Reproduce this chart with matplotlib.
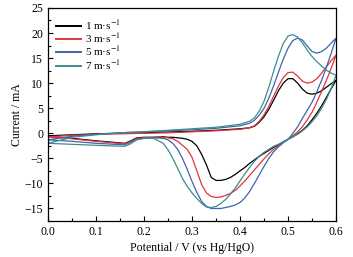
import numpy as np
import matplotlib
matplotlib.use('Agg')
import matplotlib.pyplot as plt
from matplotlib.ticker import MultipleLocator, FormatStrFormatter

plt.rcParams['font.family'] = ['Liberation Serif', 'DejaVu Serif']
plt.rcParams['mathtext.fontset'] = 'stix'

# forward scan (0 -> 0.6 V)
x_fwd = [0.0, 0.05, 0.1, 0.15, 0.2, 0.25, 0.3, 0.35, 0.4, 0.42, 0.43, 0.44, 0.45,
         0.46, 0.47, 0.48, 0.49, 0.50, 0.51, 0.52, 0.53, 0.54, 0.55, 0.56, 0.57,
         0.58, 0.59, 0.6]
i1_fwd = [-0.5, -0.3, -0.1, 0.0, 0.1, 0.25, 0.4, 0.6, 0.9, 1.1, 1.4, 2.2, 3.3,
          4.8, 6.6, 8.5, 10.0, 10.9, 10.9, 10.0, 8.8, 8.0, 7.8, 8.0, 8.5,
          9.2, 9.9, 10.6]
i3_fwd = [-0.7, -0.4, -0.2, -0.1, 0.0, 0.1, 0.3, 0.5, 0.8, 1.1, 1.5, 2.4, 3.7,
          5.4, 7.4, 9.4, 11.1, 12.1, 12.2, 11.4, 10.4, 10.0, 10.2, 10.9, 12.0,
          13.3, 14.5, 15.6]
i5_fwd = [-1.3, -0.6, -0.2, 0.1, 0.3, 0.5, 0.7, 1.0, 1.5, 2.0, 2.6, 3.6, 5.0,
          7.0, 9.5, 12.2, 14.8, 17.0, 18.5, 19.0, 18.6, 17.4, 16.3, 16.0, 16.3,
          17.0, 18.0, 19.0]
i7_fwd = [-2.0, -0.8, -0.3, 0.1, 0.3, 0.6, 0.9, 1.2, 1.8, 2.4, 3.1, 4.4, 6.4,
          9.2, 12.4, 15.4, 17.9, 19.4, 19.7, 19.2, 18.0, 16.6, 15.3, 14.3, 13.4,
          12.6, 12.0, 11.6]

# reverse scan (0.6 -> 0 V)
x_rev = [0.6, 0.59, 0.58, 0.57, 0.56, 0.55, 0.54, 0.53, 0.52, 0.51, 0.5,
         0.49, 0.48, 0.47, 0.46, 0.45, 0.44, 0.43, 0.42, 0.41, 0.40, 0.39,
         0.38, 0.37, 0.36, 0.35, 0.34, 0.33, 0.32, 0.31, 0.30, 0.29, 0.28,
         0.27, 0.26, 0.25, 0.24, 0.22, 0.2, 0.185, 0.17, 0.16, 0.1, 0.05, 0.0]
i1_rev = [10.6, 8.9, 7.2, 5.5, 4.0, 2.7, 1.5, 0.6, -0.1, -0.7, -1.2,
          -1.7, -2.3, -2.8, -3.4, -4.0, -4.6, -5.3, -6.0, -6.8, -7.5, -8.2,
          -8.8, -9.2, -9.4, -9.4, -8.8, -6.3, -4.2, -2.5, -1.6, -1.2, -1.0,
          -0.9, -0.8, -0.8, -0.7, -0.8, -0.8, -0.9, -1.6, -2.0, -1.5, -1.0, -0.6]
i3_rev = [15.6, 13.0, 10.6, 8.4, 6.2, 4.2, 2.7, 1.3, 0.3, -0.5, -1.2,
          -1.8, -2.5, -3.2, -4.1, -5.1, -6.2, -7.3, -8.4, -9.5, -10.5, -11.4,
          -12.0, -12.4, -12.7, -12.8, -12.6, -11.9, -10.2, -7.5, -4.8, -3.2, -2.4,
          -1.6, -1.1, -0.9, -0.8, -0.8, -0.9, -1.0, -1.7, -2.1, -1.6, -1.1, -0.7]
i5_rev = [19.0, 16.0, 13.2, 10.6, 8.3, 6.2, 4.6, 3.0, 1.3, 0.0, -1.2,
          -1.9, -2.7, -3.7, -5.0, -6.6, -8.3, -10.0, -11.6, -12.9, -13.8, -14.3,
          -14.6, -14.8, -15.0, -15.0, -15.0, -14.6, -13.6, -11.8, -9.6, -7.2, -5.0,
          -3.2, -2.0, -1.3, -1.0, -0.9, -1.0, -1.2, -1.9, -2.3, -2.0, -1.6, -1.3]
i7_rev = [11.6, 9.0, 6.8, 5.0, 3.5, 2.3, 1.3, 0.5, -0.2, -0.7, -1.2,
          -1.7, -2.2, -2.6, -3.2, -3.8, -4.6, -5.6, -6.8, -8.1, -9.5, -10.9,
          -12.1, -13.2, -14.0, -14.6, -14.8, -14.7, -14.0, -13.0, -11.9, -10.6, -9.0,
          -7.0, -5.0, -3.3, -2.0, -1.0, -1.0, -1.3, -2.2, -2.6, -2.4, -2.2, -2.0]

labels = ['1 m·s$^{-1}$', '3 m·s$^{-1}$', '5 m·s$^{-1}$', '7 m·s$^{-1}$']
colors = ['#000000', '#e0363a', '#3e64ad', '#3f8c8c']

fwd = [i1_fwd, i3_fwd, i5_fwd, i7_fwd]
rev = [i1_rev, i3_rev, i5_rev, i7_rev]

fig = plt.figure(figsize=(3.53, 2.57), dpi=100)
ax = fig.add_axes([0.136, 0.14, 0.816, 0.829])

for f, r, c, lab in zip(fwd, rev, colors, labels):
    # one closed sweep: forward then back
    xs = list(x_fwd) + list(x_rev[1:])
    ys = list(f) + list(r[1:])
    ax.plot(xs, ys, color=c, lw=0.9, label=lab)

ax.set_xlim(0, 0.6)
ax.set_ylim(-17.5, 25)
ax.xaxis.set_major_locator(MultipleLocator(0.1))
ax.xaxis.set_minor_locator(MultipleLocator(0.05))
ax.yaxis.set_major_locator(MultipleLocator(5))
ax.yaxis.set_minor_locator(MultipleLocator(2.5))
ax.xaxis.set_major_formatter(FormatStrFormatter('%.1f'))
ax.tick_params(which='both', direction='in', labelsize=8.5, top=False, right=False)
ax.tick_params(which='major', length=3.5, width=0.8)
ax.tick_params(which='minor', length=2, width=0.8)
for s in ax.spines.values():
    s.set_linewidth(0.9)

ax.set_xlabel('Potential / V (vs Hg/HgO)', fontsize=8.5, labelpad=3)
ax.set_ylabel('Current / mA', fontsize=8.5, labelpad=1)

leg = ax.legend(loc='upper left', frameon=False, fontsize=8, handlelength=2.3,
                handletextpad=0.3, labelspacing=-0.05, borderaxespad=0.3,
                bbox_to_anchor=(0.0, 0.99))
for h in leg.get_lines():
    h.set_linewidth(1.4)

fig.savefig('out.png', dpi=100)
